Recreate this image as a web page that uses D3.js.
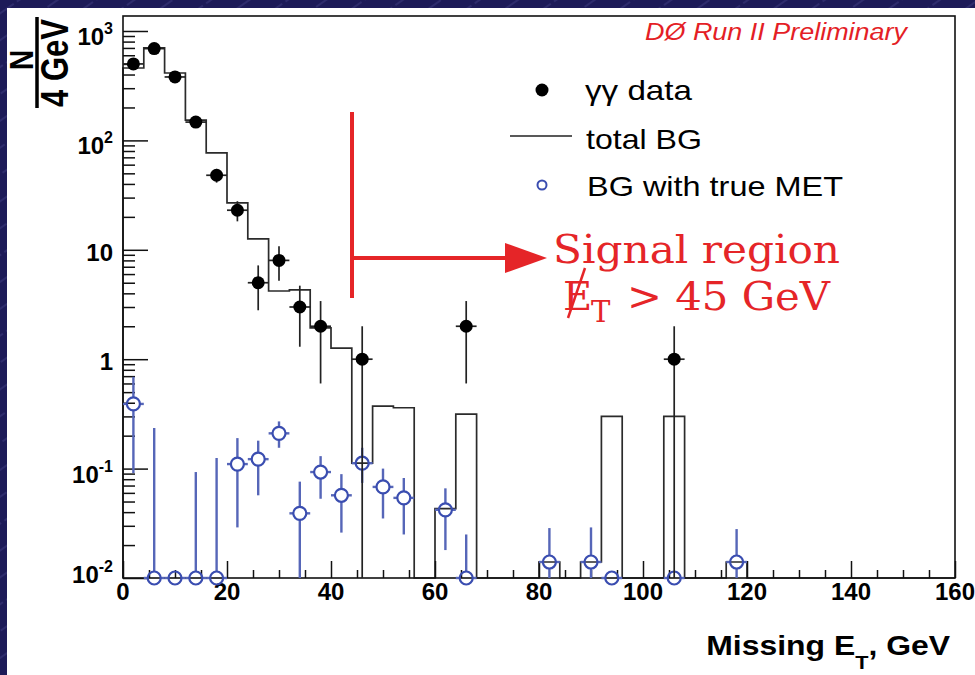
<!DOCTYPE html>
<html><head><meta charset="utf-8">
<script src="https://cdn.jsdelivr.net/npm/d3@7"></script>
<style>html,body{margin:0;padding:0;background:#1d1b58;overflow:hidden}</style>
</head><body>
<svg id="c" width="975" height="675"></svg>
<script>
// ---------- data ----------
const binLowEdges = [0,4,8,12,16,20,24,28,32,36,40,44,48,52,56,60,64,68,72,76,80,84,88,92,96,100,104,108,112,116,120,124,128,132,136,140,144,148,152,156];
const binWidth = 4;
const totalBG = [459,700,413,153,77,26.8,12.6,4.2,4.3,1.93,1.26,0.112,0.373,0.36,0,0.043,0.315,0,0,0,0.014,0,0.014,0.30,0,0,0.30,0,0,0.014,0,0,0,0,0,0,0,0,0,0];

const dataX = [2,6,10,14,18,22,26,30,34,38,46,66,106];
const dataN = [500,690,380,147,48,23,5,8,3,2,1,2,1];
const dataErr = [22.4,26.3,19.5,12.1,6.9,4.8,2.2,2.8,1.7,1.4,1.0,1.4,1.0];

const metX  = [2,6,10,14,18,22,26,30,34,38,42,46,50,54,62,66,82,90,94,106,118];
const metVal = [0.39,0,0,0,0,0.11,0.122,0.21,0.039,0.093,0.057,0.112,0.068,0.054,0.042,0,0.014,0.014,0,0,0.014];
const metUp  = [0.69,0.235,0,0.093,0.125,0.19,0.18,0.27,0.076,0.13,0.089,0.155,0.10,0.082,0.066,0.025,0.0286,0.029,0,0,0.028];
const metLo  = [0.091,0,0,0,0,0.029,0.057,0.155,0,0.053,0.026,0.074,0.035,0.025,0.018,0,0,0,0,0,0];

const xMajorTicks = [0,20,40,60,80,100,120,140,160];
const xMinorTicks = [5,10,15,25,30,35,45,50,55,65,70,75,85,90,95,105,110,115,125,130,135,145,150,155];
const yMajorTicks = [0.01,0.1,1,10,100,1000];
const yTickLabels = [["10","-2"],["10","-1"],["1",""],["10",""],["10","2"],["10","3"]];
const xDomain = [0,160];
const yDomain = [0.01,1371];

const legendLabels = ["γγ data","total BG","BG with true MET"];

// ---------- setup ----------
const svg = d3.select("#c");
const L = 123, R = 955, T = 16, B = 578;
const x = d3.scaleLinear().domain(xDomain).range([L,R]);
const y = d3.scaleLog().domain(yDomain).range([B,T]);
const yb = y(yDomain[0]);
const red = "#e52528", blueC = "#3a4db0", blueE = "#5666b8";
const sans = "'Liberation Sans', Arial, Helvetica, sans-serif";
const serif = "'DejaVu Serif', serif";

const defs = svg.append("defs");
const pat = defs.append("pattern").attr("id","bgp").attr("width",22).attr("height",22)
  .attr("patternUnits","userSpaceOnUse").attr("patternTransform","rotate(-35)");
pat.append("rect").attr("width",22).attr("height",22).attr("fill","#1d1b58");
pat.append("line").attr("x1",0).attr("y1",11).attr("x2",22).attr("y2",11)
  .attr("stroke","#6a6ab0").attr("stroke-width",0.8).attr("stroke-dasharray","9 4").attr("opacity",0.55);

svg.append("rect").attr("width",975).attr("height",675).attr("fill","url(#bgp)");
svg.append("rect").attr("x",7).attr("y",8).attr("width",968).attr("height",667).attr("fill","#fff");

// ---------- histogram ----------
let d = `M${x(binLowEdges[0])},${yb}`;
binLowEdges.forEach((e,i)=>{
  const v = totalBG[i];
  const yy = v>0 ? y(v) : yb;
  d += `L${x(e)},${yy}L${x(e+binWidth)},${yy}`;
});
d += `L${x(binLowEdges[binLowEdges.length-1]+binWidth)},${yb}`;
svg.append("path").attr("d",d).attr("fill","none").attr("stroke","#2b2b2b").attr("stroke-width",1.7);

// ---------- axes ----------
function styleAxis(g){ g.select(".domain").remove(); g.selectAll("line").attr("stroke","#111").attr("stroke-width",1.5); g.selectAll("text").remove(); }
svg.append("g").attr("transform",`translate(0,${B})`).call(d3.axisBottom(x).tickValues(xMajorTicks).tickSize(-17).tickFormat("")).call(styleAxis);
svg.append("g").attr("transform",`translate(0,${B})`).call(d3.axisBottom(x).tickValues(xMinorTicks).tickSize(-8).tickFormat("")).call(styleAxis);
const yMinor = [];
yMajorTicks.forEach(v=>{ for(let m=2;m<=9;m++){ const t=v*m; if(t<=yDomain[1]) yMinor.push(t);} });
svg.append("g").attr("transform",`translate(${L},0)`).call(d3.axisLeft(y).tickValues(yMajorTicks).tickSize(-25).tickFormat("")).call(styleAxis);
svg.append("g").attr("transform",`translate(${L},0)`).call(d3.axisLeft(y).tickValues(yMinor).tickSize(-12).tickFormat("")).call(styleAxis);

svg.append("rect").attr("x",L).attr("y",T).attr("width",R-L).attr("height",B-T)
  .attr("fill","none").attr("stroke","#111").attr("stroke-width",1.6);

// tick labels
xMajorTicks.forEach(v=>{
  svg.append("text").attr("x",x(v)).attr("y",600).attr("text-anchor","middle")
    .attr("font-family",sans).attr("font-weight","bold").attr("font-size",24).attr("fill","#000").text(v);
});
yMajorTicks.forEach((v,i)=>{
  const [base,exp] = yTickLabels[i];
  let off = exp ? 14 : 11;
  if (v===yDomain[0]) off = 5;
  const t = svg.append("text").attr("x",113).attr("y",y(v)+off).attr("text-anchor","end")
    .attr("font-family",sans).attr("font-weight","bold").attr("font-size",24).attr("fill","#000");
  t.append("tspan").text(base);
  if(exp) t.append("tspan").attr("font-size",16).attr("dy",-11).text(exp);
});

// axis titles
const xt = svg.append("text").attr("transform","translate(950,655) scale(1.14,1)").attr("text-anchor","end")
  .attr("font-family",sans).attr("font-weight","bold").attr("font-size",28).attr("fill","#000");
xt.append("tspan").text("Missing E");
xt.append("tspan").attr("font-size",19).attr("dy",14).text("T");
xt.append("tspan").attr("dy",-14).text(", GeV");

svg.append("line").attr("x1",37).attr("x2",37).attr("y1",17).attr("y2",108).attr("stroke","#000").attr("stroke-width",3.5);
svg.append("text").attr("transform","translate(33,60) scale(1.2,1) rotate(-90)").attr("text-anchor","middle")
  .attr("font-family",sans).attr("font-weight","bold").attr("font-size",28).text("N");
svg.append("text").attr("transform","translate(68,63) scale(1.25,1) rotate(-90)").attr("text-anchor","middle")
  .attr("font-family",sans).attr("font-weight","bold").attr("font-size",31).text("4 GeV");

// ---------- BG with true MET ----------
const rB = 6.5;
const gm = svg.append("g");
metX.forEach((xv,i)=>{
  const cx = x(xv), v = metVal[i];
  const cy = v>0 ? y(v) : yb;
  const seg = (x1,y1,x2,y2)=>gm.append("line").attr("x1",x1).attr("y1",y1).attr("x2",x2).attr("y2",y2)
      .attr("stroke",blueE).attr("stroke-width",2.4);
  seg(x(xv-binWidth/2),cy,cx-rB,cy);
  seg(cx+rB,cy,x(xv+binWidth/2),cy);
  if(metUp[i]>0){ const yu=y(metUp[i]); if(yu<cy-rB) seg(cx,cy-rB,cx,yu); }
  if(v>0){ const yl = metLo[i]>0 ? y(metLo[i]) : yb; if(yl>cy+rB) seg(cx,cy+rB,cx,yl); }
  gm.append("circle").attr("cx",cx).attr("cy",cy).attr("r",rB).attr("fill","none")
    .attr("stroke",blueC).attr("stroke-width",2.2);
});

// ---------- data ----------
const gd = svg.append("g");
dataX.forEach((xv,i)=>{
  const cx = x(xv), cy = y(dataN[i]);
  const lo = dataN[i]-dataErr[i];
  gd.append("line").attr("x1",cx).attr("x2",cx).attr("y1",y(dataN[i]+dataErr[i])).attr("y2",lo>0?y(lo):yb)
    .attr("stroke","#222").attr("stroke-width",1.7);
  gd.append("line").attr("x1",x(xv-binWidth/2)).attr("x2",x(xv+binWidth/2)).attr("y1",cy).attr("y2",cy)
    .attr("stroke","#222").attr("stroke-width",1.7);
  gd.append("circle").attr("cx",cx).attr("cy",cy).attr("r",6.5).attr("fill","#000");
});

// ---------- annotation ----------
svg.append("line").attr("x1",352).attr("x2",352).attr("y1",112).attr("y2",298).attr("stroke",red).attr("stroke-width",4);
svg.append("line").attr("x1",352).attr("x2",510).attr("y1",258).attr("y2",258).attr("stroke",red).attr("stroke-width",4);
svg.append("polygon").attr("points","505,243 547,258 505,273").attr("fill",red);
svg.append("text").attr("x",553).attr("y",263).attr("font-family",serif).attr("font-size",40).attr("fill",red)
  .attr("textLength",287).attr("lengthAdjust","spacingAndGlyphs").text("Signal region");
svg.append("text").attr("x",563).attr("y",310).attr("font-family",serif).attr("font-size",40).attr("fill",red).text("E");
svg.append("line").attr("x1",568).attr("y1",318).attr("x2",585).attr("y2",268).attr("stroke",red).attr("stroke-width",2.5);
svg.append("text").attr("x",591).attr("y",322).attr("font-family",serif).attr("font-size",29).attr("fill",red).text("T");
svg.append("text").attr("x",627).attr("y",310).attr("font-family",serif).attr("font-size",40).attr("fill",red)
  .attr("textLength",203).attr("lengthAdjust","spacingAndGlyphs").text("> 45 GeV");

svg.append("text").attr("x",645).attr("y",40).attr("font-family",sans).attr("font-style","italic").attr("font-size",23)
  .attr("fill","#e41e26").attr("textLength",262).attr("lengthAdjust","spacingAndGlyphs").text("DØ Run II Preliminary");

// ---------- legend ----------
svg.append("circle").attr("cx",542).attr("cy",90).attr("r",6.5).attr("fill","#000");
svg.append("line").attr("x1",510).attr("x2",572).attr("y1",136).attr("y2",136).attr("stroke","#222").attr("stroke-width",1.6);
svg.append("circle").attr("cx",542).attr("cy",185).attr("r",4.5).attr("fill","none").attr("stroke",blueC).attr("stroke-width",2);
const legY = [100,149,196], legX = [585,586,587], legW = [107,116,256];
legendLabels.forEach((t,i)=>{
  svg.append("text").attr("x",legX[i]).attr("y",legY[i]).attr("font-family",sans).attr("font-size",28).attr("fill","#000")
    .attr("textLength",legW[i]).attr("lengthAdjust","spacingAndGlyphs").text(t);
});
</script>
</body></html>
